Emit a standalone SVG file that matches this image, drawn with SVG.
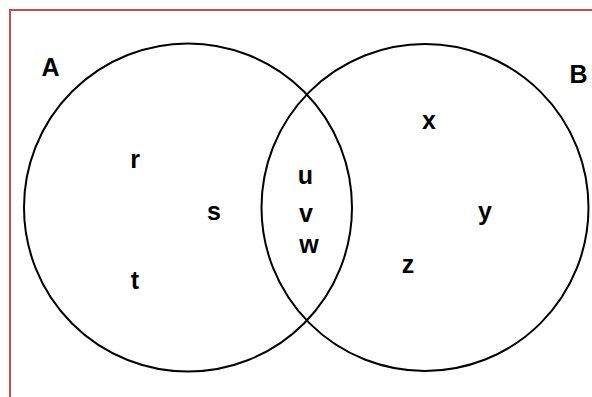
<svg xmlns="http://www.w3.org/2000/svg" width="592" height="397" viewBox="0 0 592 397">
<style>
.circ{fill:none;stroke:#000;stroke-width:2}
.lbl{font-family:"Liberation Sans",Arial,sans-serif;font-weight:bold;font-size:25px;fill:#000;text-anchor:middle}
</style>
<rect x="0" y="0" width="592" height="397" fill="#fff"/>
<path d="M10,397 V10 H592" fill="none" stroke="#c0504d" stroke-width="2"/>
<g id="setA">
<circle class="circ" cx="188" cy="207.5" r="164"/>
<text class="lbl" x="50.5" y="76">A</text>
</g>
<g id="setB">
<circle class="circ" cx="425" cy="207.5" r="163.5"/>
<text class="lbl" x="578.5" y="83">B</text>
</g>
<g id="elements">
<text class="lbl" x="135" y="168">r</text>
<text class="lbl" x="214" y="220">s</text>
<text class="lbl" x="135" y="289">t</text>
<text class="lbl" x="305.5" y="184">u</text>
<text class="lbl" x="306" y="221.5">v</text>
<text class="lbl" x="309" y="253">w</text>
<text class="lbl" x="429" y="129">x</text>
<text class="lbl" x="485" y="220">y</text>
<text class="lbl" x="408" y="273">z</text>
</g>
</svg>
